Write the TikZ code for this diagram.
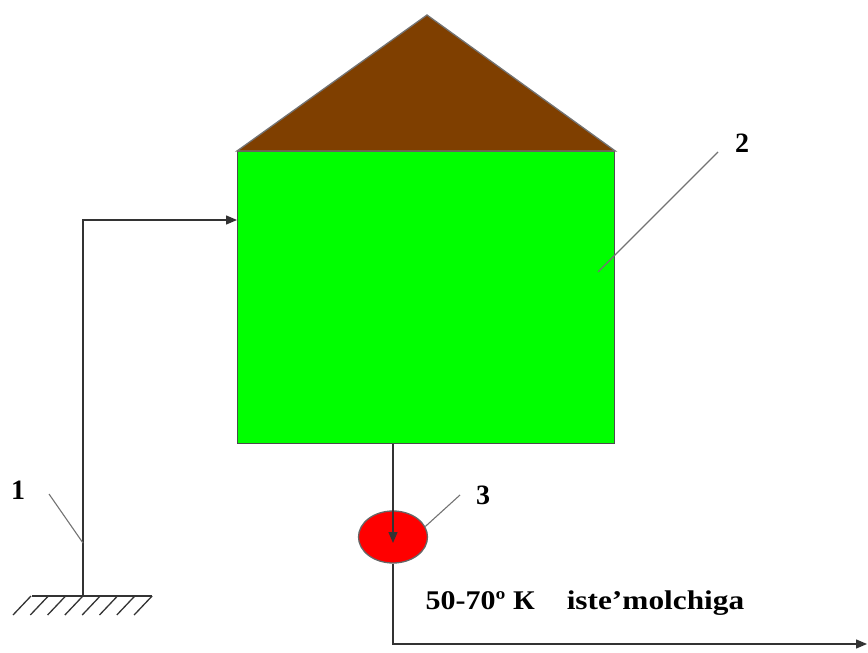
\documentclass[tikz,border=0pt]{standalone}
\usepackage{fontspec}
\setmainfont{Liberation Serif}
\usetikzlibrary{arrows.meta,positioning,shapes.geometric}
\definecolor{roof}{RGB}{127,63,0}

\begin{document}
\begin{tikzpicture}[x=1pt,y=-1pt,line width=1.3pt,
    pipe/.style={draw=black!80,-{Triangle[length=11pt,width=9pt]}},
    leader/.style={draw=black!55,line width=1.1pt},
    num/.style={font=\fontsize{28}{30}\selectfont\bfseries,inner sep=0pt},
    txt/.style={font=\fontsize{27}{30}\selectfont\bfseries,inner sep=0pt,anchor=base west,transform shape}]
  \useasboundingbox (0,0) rectangle (868,653);
  % body and roof
  \node[draw=black!70,fill=green,minimum width=377,minimum height=292,inner sep=0pt,anchor=north west] (body) at (237,151) {};
  \coordinate (apex) at (427,15);
  \filldraw[fill=roof,draw=black!55] (body.north west) -- (apex) -- (body.north east) -- cycle;
  % ground
  \coordinate (gnd) at (83,596);
  \draw[black!80] (32,596) -- (152,596);
  \foreach \i in {0,...,7}
    \draw[black!80] (31+\i*17.3,596) -- ++(-18,19);
  % inlet pipe
  \coordinate (inlet) at (237,220);
  \draw[pipe] (gnd) |- (inlet);
  % pump and outlet
  \node[ellipse,draw=black!60,fill=red,minimum width=69,minimum height=52,inner sep=0pt] (pump) at (393,537) {};
  \draw[pipe] (body.south -| pump) -- ([yshift=-6pt]pump.center);
  \coordinate (exit) at (867,644);
  \draw[pipe] (pump.south) |- (exit);
  % labels
  \node[num] (n1) at (18,490) {1};
  \node[num] (n2) at (742,143) {2};
  \node[num] (n3) at (483,495) {3};
  \coordinate (t1) at (83,543);
  \coordinate (t2) at (598,272);
  \draw[leader] ([shift={(31,4)}]n1.center) -- (t1);
  \draw[leader] ([shift={(-24,9)}]n2.center) -- (t2);
  \draw[leader] ([shift={(-23,0)}]n3.center) -- (pump.18);
  \node[txt,xscale=1.11] (temp) at (425,609) {50-70º К};
  \node[txt,xscale=1.16] (dest) at (566,609) {iste’molchiga};
\end{tikzpicture}
\end{document}
